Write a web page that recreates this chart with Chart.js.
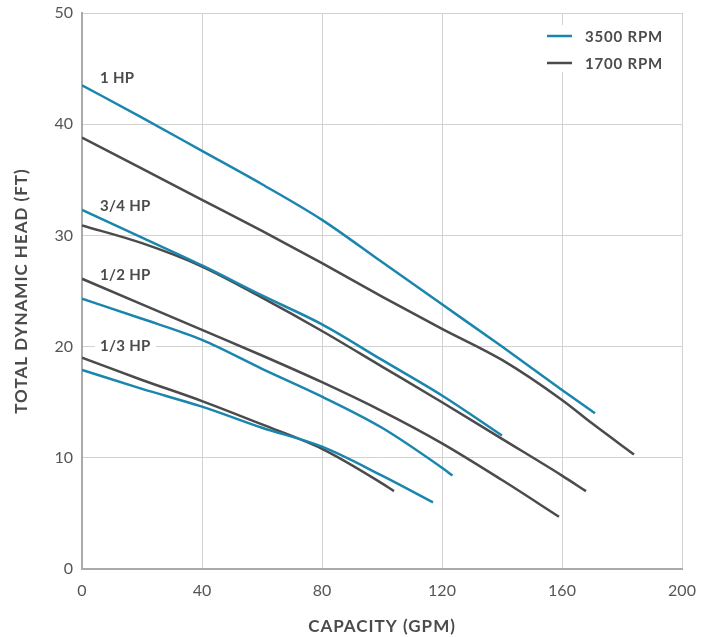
<!DOCTYPE html>
<html>
<head>
<meta charset="utf-8">
<script src="https://cdn.jsdelivr.net/npm/chart.js@4.4.1/dist/chart.umd.min.js"></script>
<style>
	html, body { margin: 0; padding: 0; background: #fff; }
	#wrap { width: 711px; height: 637px; }
</style>
</head>
<body>
<div id="wrap"><canvas id="chart" width="711" height="637"></canvas></div>
<script>
// pump curves, capacity (GPM) vs total dynamic head (FT)
const gpm1hp3500 = [0, 20, 40, 60, 80, 100, 120, 140, 160, 171];
const head1hp3500 = [43.5, 40.6, 37.6, 34.6, 31.4, 27.6, 23.8, 20.0, 16.1, 14.0];
const gpm1hp1700 = [0, 20, 40, 60, 80, 100, 120, 140, 160, 170, 184];
const head1hp1700 = [38.8, 36.0, 33.2, 30.4, 27.5, 24.5, 21.6, 18.8, 15.2, 13.1, 10.3];

const gpm34hp3500 = [0, 20, 40, 60, 80, 100, 120, 140];
const head34hp3500 = [32.3, 29.8, 27.3, 24.6, 22.0, 18.8, 15.6, 12.0];
const gpm34hp1700 = [0, 20, 40, 60, 80, 100, 120, 140, 160, 168];
const head34hp1700 = [30.9, 29.3, 27.2, 24.4, 21.4, 18.2, 15.0, 11.7, 8.4, 7.0];

const gpm12hp3500 = [0, 20, 40, 60, 80, 100, 120, 123.5];
const head12hp3500 = [24.3, 22.5, 20.6, 18.0, 15.5, 12.7, 9.1, 8.4];
const gpm12hp1700 = [0, 20, 40, 60, 80, 100, 120, 140, 159];
const head12hp1700 = [26.1, 23.8, 21.5, 19.2, 16.8, 14.2, 11.3, 8.0, 4.7];

const gpm13hp3500 = [0, 20, 40, 60, 80, 100, 117];
const head13hp3500 = [17.9, 16.2, 14.6, 12.7, 11.0, 8.4, 6.0];
const gpm13hp1700 = [0, 20, 40, 60, 80, 100, 104];
const head13hp1700 = [19.0, 17.0, 15.1, 13.0, 10.8, 7.7, 7.0];

const hpLabels = ['1 HP', '3/4 HP', '1/2 HP', '1/3 HP'];
const hpLabelHead = [44.1, 32.6, 26.4, 20.0];
const speedLabels = ['3500 RPM', '1700 RPM'];
const xTitle = 'CAPACITY (GPM)';
const yTitle = 'TOTAL DYNAMIC HEAD (FT)';

const BLUE = '#1a86ae';
const GREY = '#4b4b4d';
const TEXT = '#4b4b4d';

function pts(xs, ys) {
	return xs.map(function (x, i) { return {x: x, y: ys[i]}; });
}

function curve(xs, ys, color) {
	return {
		data: pts(xs, ys),
		borderColor: color,
		borderWidth: 2.5,
		pointRadius: 0,
		fill: false,
		tension: 0.4,
		cubicInterpolationMode: 'monotone'
	};
}

const labelPlugin = {
	id: 'labels',
	beforeDatasetsDraw: function (chart) {
		const ctx = chart.ctx;
		const xs = chart.scales.x;
		const ys = chart.scales.y;
		const area = chart.chartArea;
		ctx.save();
		ctx.font = 'bold 15px Lato';
		ctx.letterSpacing = '0.3px';
		ctx.textBaseline = 'middle';
		ctx.textAlign = 'left';
		hpLabels.forEach(function (t, i) {
			const px = xs.getPixelForValue(6);
			const py = ys.getPixelForValue(hpLabelHead[i]);
			const w = ctx.measureText(t).width;
			ctx.fillStyle = '#fff';
			ctx.fillRect(px - 5, py - 8, w + 10, 16);
			ctx.fillStyle = TEXT;
			ctx.fillText(t, px, py);
		});
		// legend box
		const lx = area.right - 135;
		ctx.fillStyle = '#fff';
		ctx.fillRect(lx - 8, 25, 130, 47);
		ctx.letterSpacing = '0.8px';
		[BLUE, GREY].forEach(function (c, i) {
			const y = 36 + i * 27;
			ctx.strokeStyle = c;
			ctx.lineWidth = 2.5;
			ctx.beginPath();
			ctx.moveTo(lx, y);
			ctx.lineTo(lx + 25, y);
			ctx.stroke();
			ctx.fillStyle = TEXT;
			ctx.fillText(speedLabels[i], lx + 38, y + 1);
		});
		// axis titles
		ctx.font = 'bold 17px Lato';
		ctx.letterSpacing = '1px';
		ctx.textAlign = 'center';
		ctx.fillText(xTitle, (area.left + area.right) / 2, 627);
		ctx.translate(22, (area.top + area.bottom) / 2);
		ctx.rotate(-Math.PI / 2);
		ctx.fillText(yTitle, 0, 0);
		ctx.restore();
	}
};

const ctx = document.getElementById('chart').getContext('2d');
const chart = new Chart(ctx, {
	type: 'line',
	data: {
		datasets: [
			curve(gpm1hp3500, head1hp3500, BLUE),
			curve(gpm1hp1700, head1hp1700, GREY),
			curve(gpm34hp3500, head34hp3500, BLUE),
			curve(gpm34hp1700, head34hp1700, GREY),
			curve(gpm12hp3500, head12hp3500, BLUE),
			curve(gpm12hp1700, head12hp1700, GREY),
			curve(gpm13hp3500, head13hp3500, BLUE),
			curve(gpm13hp1700, head13hp1700, GREY)
		]
	},
	options: {
		responsive: false,
		animation: false,
		layout: { padding: { top: 13, right: 29, left: 0, bottom: 0 } },
		plugins: {
			legend: { display: false },
			tooltip: { enabled: false }
		},
		scales: {
			x: {
				type: 'linear',
				min: 0,
				max: 200,
				afterFit: function (s) { s.height = 68; s.paddingLeft = 0; s.paddingRight = 0; },
				ticks: { stepSize: 40, padding: 12, color: '#555', font: { family: 'Lato', size: 16 } },
				grid: { color: '#d2d2d2', lineWidth: 1, drawTicks: false },
				border: { color: '#aaa', width: 2 }
			},
			y: {
				min: 0,
				max: 50,
				afterFit: function (s) { s.width = 82; s.paddingTop = 0; s.paddingBottom = 0; },
				ticks: { stepSize: 10, padding: 9, color: '#555', font: { family: 'Lato', size: 16 } },
				grid: { color: '#d2d2d2', lineWidth: 1, drawTicks: false },
				border: { color: '#aaa', width: 2 }
			}
		}
	},
	plugins: [labelPlugin]
});
</script>
</body>
</html>
